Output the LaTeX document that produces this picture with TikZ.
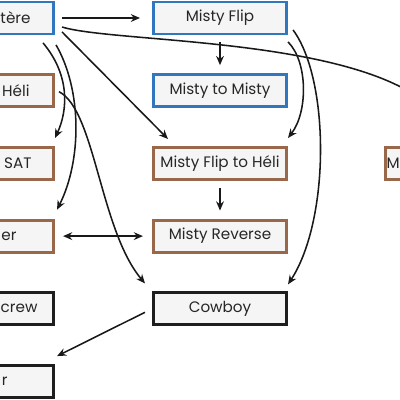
\documentclass[tikz,border=0pt]{standalone}
\usepackage{fontspec}
\setmainfont{Poppins}
\usetikzlibrary{arrows.meta}
\definecolor{boxblue}{HTML}{3077C0}
\definecolor{boxbrown}{HTML}{99684A}
\definecolor{boxblack}{HTML}{1E1E1E}
\definecolor{boxfill}{HTML}{F5F5F5}
\tikzset{
	trick/.style={draw, fill=boxfill, line width=2pt, minimum width=3.33cm, minimum height=0.8cm, font=\fontsize{10.8}{13}\selectfont, text=black!85},
	blue trick/.style={trick, draw=boxblue},
	brown trick/.style={trick, draw=boxbrown},
	black trick/.style={trick, draw=boxblack},
	cut/.style={align=right, inner xsep=#1*0.025cm, text width=(133-2*#1)*0.025cm},
	cutl/.style={align=left, inner xsep=#1*0.025cm, text width=(133-2*#1)*0.025cm},
	arr/.style={line width=1.1pt, color=black!90, -{Stealth[length=6.5pt,width=5.5pt]}},
}

\begin{document}
\begin{tikzpicture}[x=0.025cm, y=-0.025cm]
		%%%%% START %%%%%
		\useasboundingbox (0, 0) rectangle (400, 400);
		
		\node[blue trick, cut=23] (helico) at (-13, 18) {tère};
		\node[blue trick] (flip) at (220, 18) {Misty Flip};
		
		\node[brown trick, cut=24] (heli) at (-13, 90.7) {Héli};
		\node[blue trick] (mtm) at (220, 90.7) {Misty to Misty};
		
		\node[brown trick, cut=22] (sat) at (-13, 163.4) {SAT};
		\node[brown trick] (flh) at (220, 163.4) {Misty Flip to Héli};
		\node[brown trick, cutl=1] (mr) at (452, 163.4) {M};
		
		\node[brown trick, cut=37] (er) at (-13, 236.1) {er};
		\node[brown trick] (rev) at (220, 236.1) {Misty Reverse};
		
		\node[black trick, cut=16] (crew) at (-13, 308.8) {crew};
		\node[black trick] (cowboy) at (220, 308.8) {Cowboy};
		
		\node[black trick, cut=46] (rr) at (-13, 381.5) {r};
		
		\draw[arr, shorten <=5pt, shorten >=8.5pt] (helico) -- (flip);
		\draw[arr] ([shift={(7, 9)}]helico.east) .. controls (120, 45) and (410, 35) .. ([shift={(0, -7)}]mr.north);
		\draw[arr] ([shift={(7, -3.5)}]helico.south east) -- ([shift={(16, -7)}]flh.north west);
		\draw[arr] ([shift={(-12, 7.5)}]helico.south east) .. controls (70, 75) and (68, 110) .. ([shift={(0, -8)}]sat.north east);
		\draw[arr] ([shift={(1, 9.5)}]helico.south east) .. controls (82, 90) and (82, 160) .. ([shift={(2, -9)}]er.north east);
		
		\draw[arr] ([shift={(4, 1)}]heli.east) .. controls (95, 110) and (100, 230) .. ([shift={(-7, -8)}]cowboy.north west);
		
		\draw[arr, shorten <=4.6pt, shorten >=5.8pt] (flip) -- (mtm);
		\draw[arr] ([shift={(0, 6.5)}]flip.south east) .. controls (308, 62) and (308, 112) .. ([shift={(0, -8)}]flh.north east);
		\draw[arr] ([shift={(5, -5.5)}]flip.south east) .. controls (330, 80) and (330, 220) .. ([shift={(0, -7)}]cowboy.north east);
		
		\draw[arr, shorten <=5pt, shorten >=5.8pt] (flh) -- (rev);
		\draw[arr, {Stealth[length=6.5pt,width=5.5pt]}-{Stealth[length=6.5pt,width=5.5pt]}, shorten <=5.7pt, shorten >=6.4pt] (er) -- (rev);
		
		\draw[arr] ([shift={(-7, 3.5)}]cowboy.west) -- ([shift={(2, -8)}]rr.north east);
		%%%%% END %%%%%
	\end{tikzpicture}
\end{document}
